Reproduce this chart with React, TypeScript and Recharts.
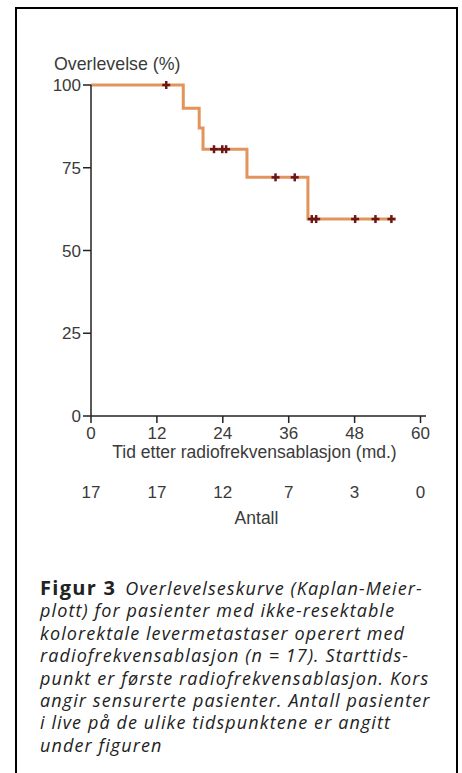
import React from "react";
import { ComposedChart, Line, Scatter, XAxis, YAxis } from "recharts";

// Kaplan-Meier step curve (months, survival %)
const stepMonths = [0, 16.8, 19.7, 20.4, 28.4, 39.5, 55.5];
const stepSurvival = [100, 93, 87, 80.6, 72.1, 59.5, 59.5];

// censored patients (crosses)
const censorMonths = [13.7, 22.4, 23.9, 24.6, 33.6, 37.1, 40.2, 41.0, 48.1, 51.8, 54.7];
const censorSurvival = [100, 80.6, 80.6, 80.6, 72.1, 72.1, 59.5, 59.5, 59.5, 59.5, 59.5];

const monthTicks = [0, 12, 24, 36, 48, 60];
const atRisk = [17, 17, 12, 7, 3, 0];
const survivalTicks = [0, 25, 50, 75, 100];

const curve = stepMonths.map((t, i) => ({ t, s: stepSurvival[i] }));
const censored = censorMonths.map((t, i) => ({ t, s: censorSurvival[i] }));

const FONT = "'Liberation Sans', Arial, sans-serif";
const TEXT = "#3a3a3a";
const AXIS = "#222";

const Cross = (props: any) => {
  const { cx, cy } = props;
  const c = "#6e1515";
  return (
    <g>
      <line x1={cx - 4} x2={cx + 4} y1={cy} y2={cy} stroke={c} strokeWidth={2.5} />
      <line x1={cx} x2={cx} y1={cy - 4} y2={cy + 4} stroke={c} strokeWidth={2.5} />
    </g>
  );
};

const captionLines = [
  "Overlevelseskurve (Kaplan-Meier-",
  "plott) for pasienter med ikke-resektable",
  "kolorektale levermetastaser operert med",
  "radiofrekvensablasjon (n = 17). Starttids-",
  "punkt er første radiofrekvensablasjon. Kors",
  "angir sensurerte pasienter. Antall pasienter",
  "i live på de ulike tidspunktene er angitt",
  "under figuren",
];

export default function App() {
  return (
    <div style={{ position: "absolute", left: 0, top: 0, width: 462, height: 773, background: "#fff" }}>
      <div
        style={{
          position: "absolute",
          left: 15,
          top: 7,
          width: 439,
          height: 780,
          borderLeft: "2px solid #000",
          borderTop: "2px solid #000",
          borderRight: "2px solid #000",
        }}
      />
      <div style={{ position: "absolute", left: 0, top: 0 }}>
        <ComposedChart width={462} height={540} margin={{ top: 85, right: 36, left: 41, bottom: 10 }}>
          <XAxis
            dataKey="t"
            type="number"
            domain={[0, 61]}
            ticks={monthTicks}
            allowDataOverflow
            stroke={AXIS}
            strokeWidth={1.5}
            tickSize={7}
            tickMargin={4}
            height={48}
            tick={{ fill: TEXT, fontSize: 17, fontFamily: FONT }}
            label={{
              content: ({ viewBox }: any) => (
                <text
                  x={viewBox.x + viewBox.width / 2 - 4}
                  y={viewBox.y + 42}
                  textAnchor="middle"
                  fill={TEXT}
                  fontSize={17.5}
                  fontFamily={FONT}
                >
                  Tid etter radiofrekvensablasjon (md.)
                </text>
              ),
            }}
          />
          <XAxis
            xAxisId="risk"
            dataKey="t"
            type="number"
            domain={[0, 61]}
            ticks={monthTicks}
            axisLine={false}
            tickLine={false}
            tickSize={0}
            tickMargin={22}
            height={66}
            tickFormatter={(v: number) => String(atRisk[monthTicks.indexOf(v)])}
            tick={{ fill: TEXT, fontSize: 17, fontFamily: FONT }}
            label={{
              content: ({ viewBox }: any) => (
                <text
                  x={viewBox.x + viewBox.width / 2 - 2}
                  y={viewBox.y + 60}
                  textAnchor="middle"
                  fill={TEXT}
                  fontSize={17.5}
                  fontFamily={FONT}
                >
                  Antall
                </text>
              ),
            }}
          />
          <YAxis
            dataKey="s"
            type="number"
            domain={[0, 100]}
            ticks={survivalTicks}
            width={50}
            stroke={AXIS}
            strokeWidth={1.5}
            tickSize={8}
            tickMargin={2}
            tick={{ fill: TEXT, fontSize: 17, fontFamily: FONT }}
            label={{
              content: ({ viewBox }: any) => (
                <text x={viewBox.x + 13} y={viewBox.y - 15} fill={TEXT} fontSize={17.8} fontFamily={FONT}>
                  Overlevelse (%)
                </text>
              ),
            }}
          />
          <Line
            data={curve}
            dataKey="s"
            type="stepAfter"
            stroke="#e3935c"
            strokeWidth={3}
            dot={false}
            isAnimationActive={false}
          />
          <Scatter data={censored} dataKey="s" shape={<Cross />} isAnimationActive={false} />
          <Scatter xAxisId="risk" data={censored} dataKey="s" shape={() => <g />} isAnimationActive={false} />
        </ComposedChart>
      </div>
      <div
        style={{
          position: "absolute",
          left: 40,
          top: 577,
          fontFamily: "'Open Sans', sans-serif",
          fontSize: 18,
          lineHeight: "22.4px",
          color: "#222",
          whiteSpace: "nowrap",
        }}
      >
        {captionLines.map((line, i) => (
          <div key={i}>
            {i === 0 && (
              <span style={{ fontWeight: 700, fontStyle: "normal", fontSize: 20, letterSpacing: 1.3, marginRight: 9 }}>
                Figur 3
              </span>
            )}
            <span style={{ fontStyle: "italic", fontWeight: 400, letterSpacing: 1.1 }}>{line}</span>
          </div>
        ))}
      </div>
    </div>
  );
}
